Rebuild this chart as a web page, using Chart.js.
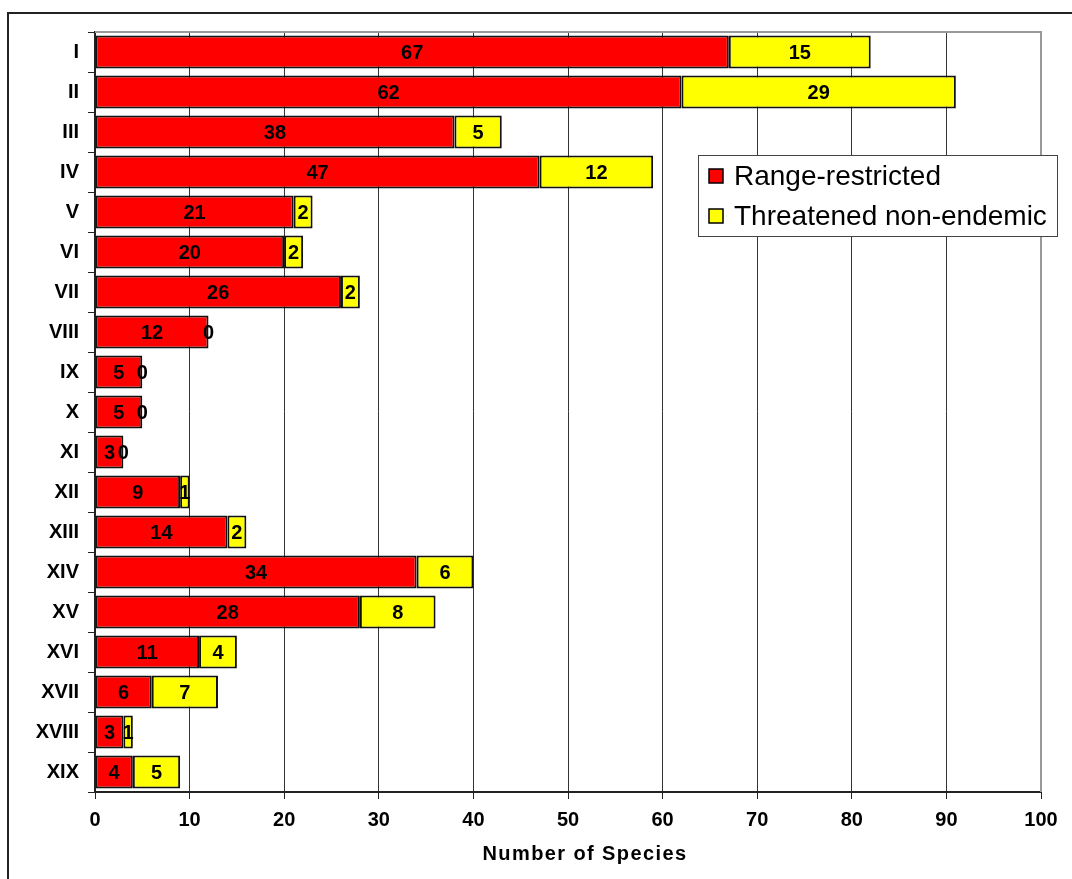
<!DOCTYPE html>
<html>
<head>
<meta charset="utf-8">
<script src="https://cdn.jsdelivr.net/npm/chart.js@4/dist/chart.umd.min.js"></script>
<style>
  html, body { margin: 0; padding: 0; background: #fff; }
  #wrap { width: 1072px; height: 879px; position: relative; }
</style>
</head>
<body>
<div id="wrap"><canvas id="c" width="1072" height="879"></canvas></div>
<script>
// Regions (Roman numerals) and species counts per region
const regions = ['I','II','III','IV','V','VI','VII','VIII','IX','X','XI','XII','XIII','XIV','XV','XVI','XVII','XVIII','XIX'];
const rangeRestricted = [67, 62, 38, 47, 21, 20, 26, 12, 5, 5, 3, 9, 14, 34, 28, 11, 6, 3, 4];
const threatenedNonEndemic = [15, 29, 5, 12, 2, 2, 2, 0, 0, 0, 0, 1, 2, 6, 8, 4, 7, 1, 5];
const xTicks = [0, 10, 20, 30, 40, 50, 60, 70, 80, 90, 100];
const seriesNames = ['Range-restricted', 'Threatened non-endemic'];
const axisTitle = 'Number of Species';

const FONT = '"Liberation Sans", Arial, Helvetica, sans-serif';

// Outer frame and top/right plot edges
const framePlugin = {
  id: 'frame',
  beforeDraw(chart) {
    const ctx = chart.ctx;
    ctx.save();
    ctx.fillStyle = '#fff';
    ctx.fillRect(0, 0, chart.width, chart.height);
    ctx.strokeStyle = '#222';
    ctx.lineWidth = 2;
    ctx.strokeRect(8, 13, chart.width + 20, chart.height + 20);
    ctx.restore();
  },
  afterDraw(chart) {
    const {ctx, chartArea: a} = chart;
    ctx.save();
    ctx.strokeStyle = '#999';
    ctx.lineWidth = 2;
    ctx.beginPath();
    ctx.moveTo(a.left, a.top);
    ctx.lineTo(a.right, a.top);
    ctx.lineTo(a.right, a.bottom);
    ctx.stroke();
    ctx.restore();
  }
};

// Value labels centred on each bar segment
const valueLabels = {
  id: 'valueLabels',
  afterDatasetsDraw(chart) {
    const ctx = chart.ctx;
    ctx.save();
    ctx.font = 'bold 20px ' + FONT;
    ctx.fillStyle = '#000';
    ctx.textAlign = 'center';
    ctx.textBaseline = 'middle';
    chart.data.datasets.forEach((ds, di) => {
      const meta = chart.getDatasetMeta(di);
      meta.data.forEach((el, i) => {
        const p = el.getProps(['x', 'y', 'base'], true);
        ctx.fillText(String(ds.data[i]), (p.x + p.base) / 2, p.y + 1);
      });
    });
    ctx.restore();
  }
};

// Boxed legend inside the plot, plus the axis title
const legendBox = {
  id: 'legendBox',
  afterDraw(chart) {
    const ctx = chart.ctx;
    const xs = chart.scales.x;
    ctx.save();
    // axis title
    ctx.font = 'bold 20px ' + FONT;
    ctx.fillStyle = '#000';
    ctx.textAlign = 'center';
    ctx.textBaseline = 'alphabetic';
    if ('letterSpacing' in ctx) ctx.letterSpacing = '1.4px';
    ctx.fillText(axisTitle, (xs.left + xs.right) / 2 + 17, 860);
    if ('letterSpacing' in ctx) ctx.letterSpacing = '0px';

    // legend
    const bx = 698, by = 155, bw = 359, bh = 81;
    ctx.fillStyle = '#fff';
    ctx.fillRect(bx, by, bw, bh);
    ctx.strokeStyle = '#444';
    ctx.lineWidth = 1;
    ctx.strokeRect(bx + 0.5, by + 0.5, bw, bh);
    ctx.font = '28px ' + FONT;
    ctx.textAlign = 'left';
    ctx.textBaseline = 'middle';
    chart.data.datasets.forEach((ds, i) => {
      const cy = by + 21 + i * 40;
      ctx.fillStyle = ds.backgroundColor;
      ctx.fillRect(709, cy - 7, 14, 14);
      ctx.strokeStyle = '#000';
      ctx.lineWidth = 1.5;
      ctx.strokeRect(709, cy - 7, 14, 14);
      ctx.fillStyle = '#000';
      ctx.fillText(ds.label, 734, cy + 1);
    });
    ctx.restore();
  }
};

new Chart(document.getElementById('c'), {
  type: 'bar',
  data: {
    labels: regions,
    datasets: [
      {
        label: seriesNames[0],
        data: rangeRestricted,
        backgroundColor: '#ff0000',
        borderColor: '#111',
        borderWidth: 2,
        borderSkipped: false,
        barPercentage: 0.83,
        categoryPercentage: 1
      },
      {
        label: seriesNames[1],
        data: threatenedNonEndemic,
        backgroundColor: '#ffff00',
        borderColor: '#111',
        borderWidth: 2,
        borderSkipped: false,
        barPercentage: 0.83,
        categoryPercentage: 1
      }
    ]
  },
  options: {
    indexAxis: 'y',
    responsive: false,
    animation: false,
    devicePixelRatio: 1,
    layout: { padding: { top: 32, right: 31, left: 0, bottom: 0 } },
    plugins: {
      legend: { display: false },
      tooltip: { enabled: false }
    },
    scales: {
      x: {
        type: 'linear',
        stacked: true,
        min: 0,
        max: 100,
        afterBuildTicks(scale) { scale.ticks = xTicks.map(v => ({ value: v })); },
        afterFit(scale) { scale.height = 87; },
        grid: {
          color: ctx => (ctx.tick && ctx.tick.value === 100) ? '#a0a0a0' : '#333',
          lineWidth: 1,
          drawTicks: true,
          tickLength: 7,
          tickColor: '#222'
        },
        border: { color: '#222', width: 2 },
        ticks: {
          padding: 9,
          color: '#000',
          font: { family: FONT, size: 20, weight: 'bold' }
        }
      },
      y: {
        stacked: true,
        afterFit(scale) { scale.width = 95; },
        grid: {
          offset: true,
          drawOnChartArea: false,
          drawTicks: true,
          tickLength: 7,
          color: '#222'
        },
        border: { color: '#222', width: 2 },
        ticks: {
          padding: 9,
          color: '#000',
          font: { family: FONT, size: 20, weight: 'bold' }
        }
      }
    }
  },
  plugins: [framePlugin, valueLabels, legendBox]
});
</script>
</body>
</html>
